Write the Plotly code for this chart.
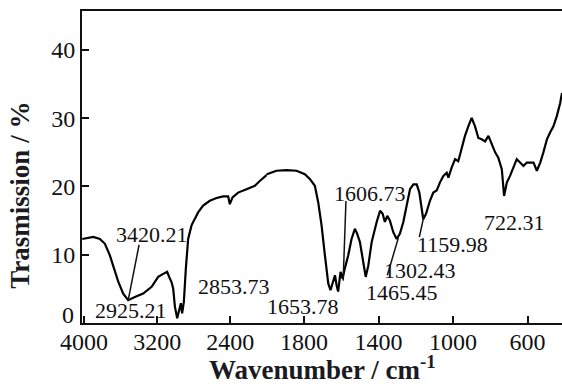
import plotly.graph_objects as go

# ---- data ----
wavenumber = [4020, 3900, 3827, 3772, 3718, 3681, 3627, 3572, 3517, 3444,
              3353, 3261, 3189, 3134, 3091, 3069, 3043, 3025, 3006, 2981,
              2959, 2941, 2927, 2908, 2886, 2861, 2824, 2806, 2752, 2697,
              2624, 2550, 2478, 2423, 2405, 2375, 2314, 2222, 2131, 2077,
              2000, 1948, 1894, 1840, 1796, 1769, 1742, 1724, 1706, 1688,
              1670, 1658, 1644, 1634, 1625, 1617, 1604, 1593, 1581, 1563,
              1545, 1527, 1515, 1500, 1482, 1469, 1455, 1437, 1410, 1392,
              1378, 1366, 1353, 1339, 1321, 1303, 1285, 1267, 1249, 1231,
              1213, 1195, 1181, 1168, 1160, 1145, 1124, 1106, 1088, 1070,
              1052, 1034, 1025, 1007, 989, 972, 953, 936, 918, 900,
              882, 864, 846, 828, 810, 792, 774, 757, 738, 726,
              711, 694, 676, 658, 640, 622, 604, 586, 568, 550,
              532, 515, 496, 479, 461, 443, 425, 415]
transmission = [12.3, 12.6, 12.3, 11.6, 9.9, 8.4, 6.1, 4.3, 3.35, 3.8,
                4.3, 5.3, 6.75, 7.2, 7.5, 6.75, 6.0, 5.05, 2.4, 0.7,
                2.1, 2.9, 1.4, 3.1, 8.0, 12.3, 14.3, 14.8, 16.2, 17.2,
                17.9, 18.3, 18.55, 18.55, 17.4, 18.4, 19.1, 19.6, 20.1, 20.8,
                21.8, 22.3, 22.4, 22.3, 21.8, 21.1, 20.1, 17.7, 14.3, 9.9,
                5.8, 4.8, 6.3, 7.0, 5.5, 4.6, 7.5, 6.5, 8.0, 9.9,
                12.3, 13.8, 13.1, 11.85, 8.9, 6.75, 8.4, 11.85, 14.8, 16.45,
                16.0, 14.8, 15.7, 15.0, 13.3, 12.3, 13.1, 14.8, 17.2, 19.6,
                20.3, 20.3, 19.1, 16.45, 15.2, 16.0, 17.9, 19.1, 19.4, 20.6,
                21.55, 22.0, 21.3, 22.8, 24.0, 23.7, 25.9, 27.4, 28.8, 30.05,
                28.8, 27.1, 26.9, 26.6, 27.4, 26.2, 25.0, 24.2, 22.5, 18.6,
                20.6, 21.55, 22.8, 24.0, 23.5, 23.0, 23.5, 23.5, 23.5, 22.3,
                23.5, 25.0, 26.9, 27.9, 28.8, 30.3, 32.2, 33.7]
assert len(wavenumber) == len(transmission)

x_ticks_high = [4000, 3200, 2400]
x_ticks_low = [1800, 1400, 1000, 600]
y_ticks = [10, 20, 30, 40]
y_zero_label = "0"

peak_labels = ["3420.21", "2925.21", "2853.73", "1653.78", "1606.73",
               "1465.45", "1302.43", "1159.98", "722.31"]
label_x = [3253, 3482, 2361, 1806, 1444, 1274, 1177, 1005, 668]
label_y = [12.9, 1.9, 5.4, 2.35, 18.9, 4.5, 7.75, 11.55, 14.75]

# leader lines: (x0, y0, x1, y1)
leader_x0 = [3398, 1575, 1353, 1181]
leader_y0 = [11.46, 17.86, 6.99, 12.58]
leader_x1 = [3517, 1590, 1294, 1156]
leader_y1 = [3.35, 6.21, 12.43, 15.72]

SERIF = "Liberation Serif, Times New Roman, serif"
INK = "#111111"
split = 0.385

fig = go.Figure()
line = dict(color="black", width=2.2)
fig.add_trace(go.Scatter(x=wavenumber, y=transmission, mode="lines", line=line,
                         xaxis="x", yaxis="y", showlegend=False))
fig.add_trace(go.Scatter(x=wavenumber, y=transmission, mode="lines", line=line,
                         xaxis="x2", yaxis="y", showlegend=False))

axis_common = dict(showline=True, linecolor=INK, linewidth=2, mirror=True,
                   ticks="inside", ticklen=7, tickwidth=1.5, tickcolor=INK,
                   showgrid=False, zeroline=False, automargin=False,
                   tickfont=dict(family=SERIF, size=24, color=INK))

annotations = []
for i, t in enumerate(peak_labels):
    annotations.append(dict(x=label_x[i], y=label_y[i], text=t,
                            xref="x" if label_x[i] > 2000 else "x2", yref="y",
                            showarrow=False,
                            font=dict(family=SERIF, size=22, color=INK)))
# "0" tick label of the y axis sits slightly above the axis in the reference
annotations.append(dict(x=-0.012, y=1.2, xref="paper", yref="y",
                        xanchor="right", yanchor="middle", text=y_zero_label,
                        showarrow=False,
                        font=dict(family=SERIF, size=24, color=INK)))
annotations.append(dict(x=0.5, y=-0.143, xref="paper", yref="paper",
                        xanchor="center", yanchor="middle",
                        text="<b>Wavenumber / cm<sup>-1</sup></b>",
                        showarrow=False,
                        font=dict(family=SERIF, size=27, color="#1a1a22")))
annotations.append(dict(x=-0.128, y=0.41, xref="paper", yref="paper",
                        xanchor="center", yanchor="middle",
                        text="<b>Trasmission / %</b>", textangle=-90,
                        showarrow=False,
                        font=dict(family=SERIF, size=27, color="#1a1a22")))

shapes = []
for i in range(len(leader_x0)):
    shapes.append(dict(type="line", x0=leader_x0[i], y0=leader_y0[i],
                       x1=leader_x1[i], y1=leader_y1[i],
                       xref="x" if leader_x0[i] > 2000 else "x2", yref="y",
                       line=dict(color=INK, width=1.5)))

fig.update_layout(
    width=562, height=391,
    margin=dict(l=82, r=0, t=11, b=68, autoexpand=False),
    paper_bgcolor="white", plot_bgcolor="white",
    xaxis=dict(domain=[0, split], range=[4023, 2000], tickvals=x_ticks_high,
               anchor="y", ticklabelstandoff=-4, **axis_common),
    xaxis2=dict(domain=[split, 1], range=[2000, 415], tickvals=x_ticks_low,
                anchor="y", ticklabelstandoff=-4, **axis_common),
    yaxis=dict(domain=[0, 1], range=[0, 45.7], tickvals=y_ticks, anchor="x",
               **{**axis_common, "mirror": False}),
    annotations=annotations,
    shapes=shapes,
)

fig.write_html("out.html",
               config={"displayModeBar": False},
               post_script="document.body.style.margin='0';"
                           "document.body.style.overflow='hidden';")
